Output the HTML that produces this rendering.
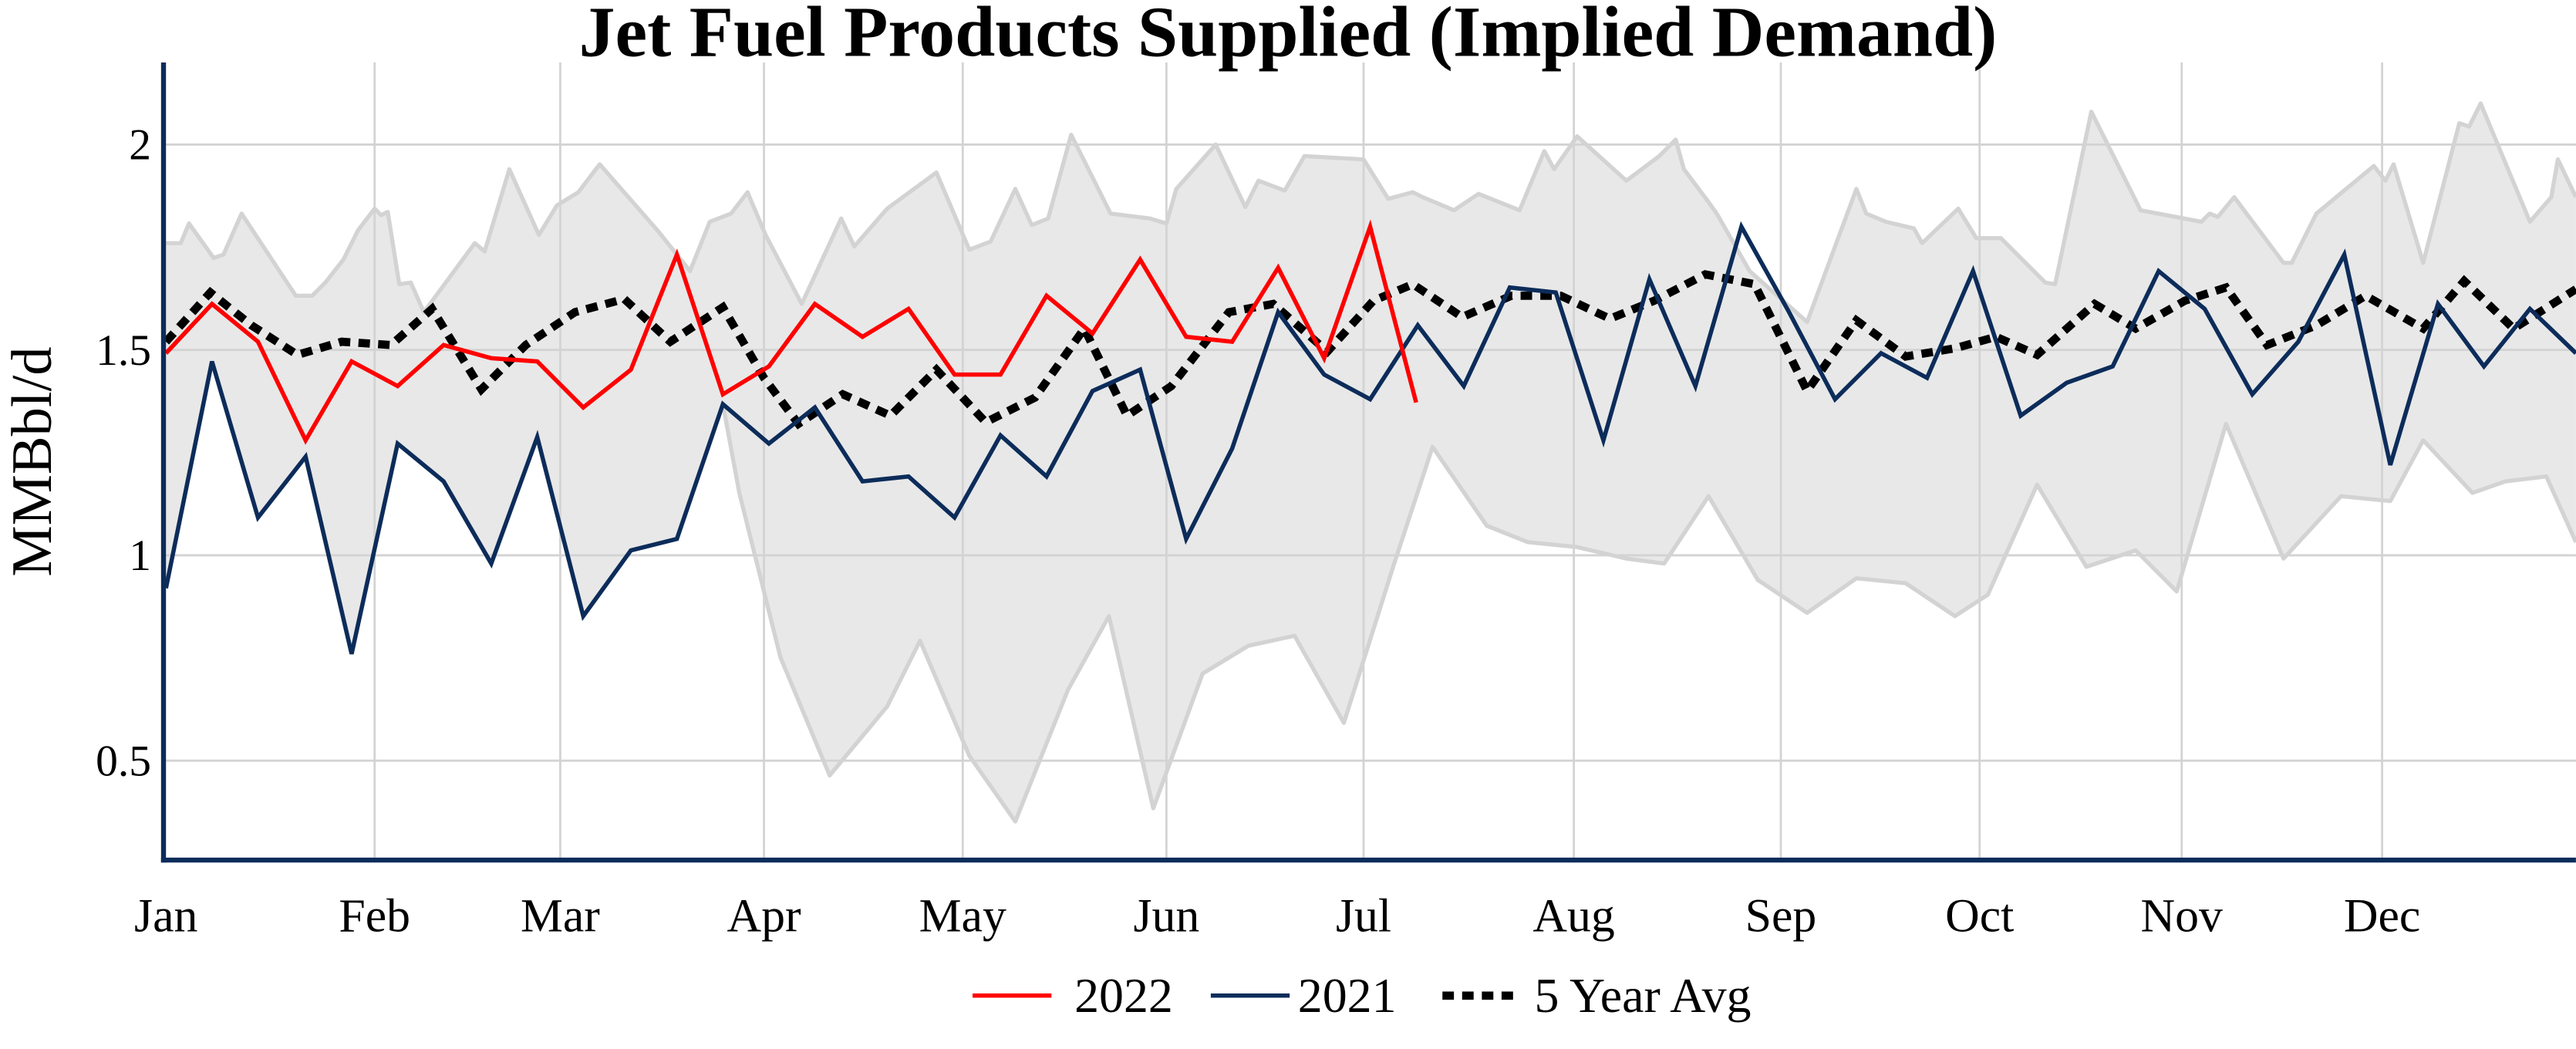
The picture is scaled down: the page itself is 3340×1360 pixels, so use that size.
<!DOCTYPE html>
<html><head><meta charset="utf-8"><style>
html,body{margin:0;padding:0;background:#fff;}
svg{display:block;}
text{font-family:"Liberation Serif",serif;fill:#000;}
</style></head><body>
<svg width="3340" height="1360" viewBox="0 0 1568 638.5" xmlns="http://www.w3.org/2000/svg">
<rect width="1568" height="638.5" fill="#fff"/>
<polygon fill="#e8e8e8" points="101,148 110,148 115,136 130,157 136,155 147,130 180,180 190,180 198,172 209,158 218,140 228,127 232,131 236,129 243,173 250,172 258,190 289,148 295,153 310,103 328,143 339,125 352,117 365,100 400,140 420,165 432,135 445,130 455,117 466,143 488,185 512,133 520,150 540,127 570,105 590,152 603,147 618,115 628,137 638,133 652,82 676,130 700,133 710,136 716,115 740,88 758,126 766,110 782,116 794,95 830,97 845,121 860,117 866,120 885,128 900,118 925,128 940,92 946,103 960,83 990,110 1010,95 1020,85 1025,103 1040,123 1045,130 1065,165 1100,196 1130,115 1136,130 1148,135 1165,139 1170,148 1192,127 1203,145 1212,145 1218,145 1245,172 1251,173 1273,68 1303,128 1340,135 1345,130 1350,132 1360,120 1390,160 1395,160 1410,130 1445,101 1452,110 1457,100 1475,160 1497,75 1503,77 1510,63 1540,135 1553,120 1557,97 1568,120 1568,330 1550,290 1525,293 1505,300 1475,268 1455,305 1425,302 1390,340 1355,258 1325,360 1300,335 1270,345 1240,295 1210,362 1190,375 1160,355 1130,352 1100,373 1070,353 1040,302 1013,343 990,340 960,333 930,330 905,320 872,272 848,345 818,440 788,387 760,393 732,410 702,492 675,375 650,420 618,500 590,460 560,390 540,430 505,472 475,400 450,300 440,246 412,328 384,335 355,375 327,266 299,343 270,293 242,270 214,398 186,278 157,315 129,220 101,358"/>
<g stroke="#d3d3d3" stroke-width="1.3">
<line x1="99" y1="88" x2="1568" y2="88"/><line x1="99" y1="213" x2="1568" y2="213"/><line x1="99" y1="338" x2="1568" y2="338"/><line x1="99" y1="463" x2="1568" y2="463"/>
<line x1="228" y1="38" x2="228" y2="524"/><line x1="341" y1="38" x2="341" y2="524"/><line x1="465" y1="38" x2="465" y2="524"/><line x1="586" y1="38" x2="586" y2="524"/><line x1="710" y1="38" x2="710" y2="524"/><line x1="830" y1="38" x2="830" y2="524"/><line x1="958" y1="38" x2="958" y2="524"/><line x1="1084" y1="38" x2="1084" y2="524"/><line x1="1205" y1="38" x2="1205" y2="524"/><line x1="1328" y1="38" x2="1328" y2="524"/><line x1="1450" y1="38" x2="1450" y2="524"/>
</g>
<g fill="none" stroke="#d3d3d3" stroke-width="2.5" stroke-linejoin="round">
<polyline points="101,148 110,148 115,136 130,157 136,155 147,130 180,180 190,180 198,172 209,158 218,140 228,127 232,131 236,129 243,173 250,172 258,190 289,148 295,153 310,103 328,143 339,125 352,117 365,100 400,140 420,165 432,135 445,130 455,117 466,143 488,185 512,133 520,150 540,127 570,105 590,152 603,147 618,115 628,137 638,133 652,82 676,130 700,133 710,136 716,115 740,88 758,126 766,110 782,116 794,95 830,97 845,121 860,117 866,120 885,128 900,118 925,128 940,92 946,103 960,83 990,110 1010,95 1020,85 1025,103 1040,123 1045,130 1065,165 1100,196 1130,115 1136,130 1148,135 1165,139 1170,148 1192,127 1203,145 1212,145 1218,145 1245,172 1251,173 1273,68 1303,128 1340,135 1345,130 1350,132 1360,120 1390,160 1395,160 1410,130 1445,101 1452,110 1457,100 1475,160 1497,75 1503,77 1510,63 1540,135 1553,120 1557,97 1568,120"/>
<polyline points="440,246 450,300 475,400 505,472 540,430 560,390 590,460 618,500 650,420 675,375 702,492 732,410 760,393 788,387 818,440 848,345 872,272 905,320 930,330 960,333 990,340 1013,343 1040,302 1070,353 1100,373 1130,352 1160,355 1190,375 1210,362 1240,295 1270,345 1300,335 1325,360 1355,258 1390,340 1425,302 1455,305 1475,268 1505,300 1525,293 1550,290 1568,330"/>
</g>
<polyline fill="none" stroke="#000" stroke-width="5" stroke-dasharray="7,5" points="101,208 128,178 153,198 181,216 208,208 238,210 263,188 293,237 320,210 350,190 380,182 408,208 440,187 465,230 486,258 513,240 542,253 570,225 600,257 630,242 660,200 686,253 713,235 748,190 775,185 808,214 836,183 860,173 890,193 920,180 950,180 980,194 1007,183 1038,167 1068,173 1100,238 1130,195 1160,217 1190,212 1215,205 1240,216 1275,185 1300,200 1330,183 1355,175 1380,210 1410,198 1440,180 1475,200 1500,171 1530,200 1568,176"/>
<polyline fill="none" stroke="#0c2c5a" stroke-width="2.6" points="101,358 129,220 157,315 186,278 214,398 242,270 270,293 299,343 327,266 355,375 384,335 412,328 440,246 468,270 496,248 525,293 553,290 581,315 609,265 637,290 665,238 694,225 722,328 750,273 778,190 806,228 834,243 863,198 891,235 919,175 947,178 976,268 1004,170 1032,235 1060,138 1089,190 1117,243 1145,215 1173,230 1201,165 1230,253 1258,233 1286,223 1314,165 1342,188 1371,240 1399,208 1427,155 1455,283 1484,185 1512,223 1540,188 1568,215"/>
<polyline fill="none" stroke="#ff0000" stroke-width="2.6" points="101,215 129,185 157,208 186,268 214,220 242,235 270,210 299,218 327,220 355,248 384,225 412,155 440,240 468,223 496,185 525,205 553,188 581,228 609,228 637,180 665,203 694,158 722,205 750,208 778,163 806,218 834,138 862,245"/>
<line x1="99.5" y1="38" x2="99.5" y2="525" stroke="#0c2c5a" stroke-width="3"/>
<line x1="98" y1="523.5" x2="1568" y2="523.5" stroke="#0c2c5a" stroke-width="3"/>
<text x="784" y="34" font-size="44" font-weight="bold" text-anchor="middle">Jet Fuel Products Supplied (Implied Demand)</text>
<g font-size="27" text-anchor="end">
<text x="92" y="97">2</text><text x="92" y="222">1.5</text><text x="92" y="347">1</text><text x="92" y="472">0.5</text>
</g>
<text transform="translate(31,281) rotate(-90)" font-size="35" text-anchor="middle">MMBbl/d</text>
<g font-size="29" text-anchor="middle">
<text x="101" y="567">Jan</text><text x="228" y="567">Feb</text><text x="341" y="567">Mar</text><text x="465" y="567">Apr</text><text x="586" y="567">May</text><text x="710" y="567">Jun</text><text x="830" y="567">Jul</text><text x="958" y="567">Aug</text><text x="1084" y="567">Sep</text><text x="1205" y="567">Oct</text><text x="1328" y="567">Nov</text><text x="1450" y="567">Dec</text>
</g>
<line x1="592" y1="606" x2="640" y2="606" stroke="#ff0000" stroke-width="2.6"/>
<text x="654" y="616" font-size="30">2022</text>
<line x1="737" y1="606" x2="785" y2="606" stroke="#0c2c5a" stroke-width="2.6"/>
<text x="790" y="616" font-size="30">2021</text>
<line x1="878" y1="606" x2="926" y2="606" stroke="#000" stroke-width="5" stroke-dasharray="7,5"/>
<text x="934" y="616" font-size="30">5 Year Avg</text>
</svg>
</body></html>
